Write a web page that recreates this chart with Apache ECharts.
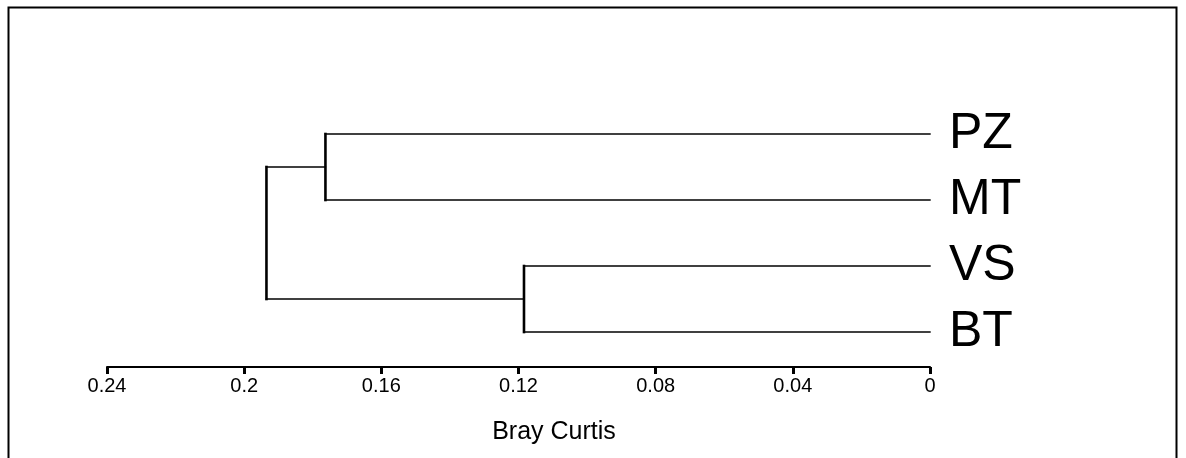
<!DOCTYPE html>
<html>
<head>
<meta charset="utf-8">
<script src="https://cdn.jsdelivr.net/npm/echarts@6/dist/echarts.min.js"></script>
<style>html,body{margin:0;padding:0;background:#fff}#c{width:1186px;height:458px}</style>
</head>
<body>
<div id="c"></div>
<script>
// Leaves, top to bottom
const leaves = ['PZ', 'MT', 'VS', 'BT'];
// Merges: [childA, childB, height]; node ids 0..3 are leaves, 4.. are merges
const mergeA = [0, 2, 4];
const mergeB = [1, 3, 5];
const mergeHeight = [0.1763, 0.1184, 0.1935];
const xTicks = [0, 0.04, 0.08, 0.12, 0.16, 0.2, 0.24];
const axisTitle = 'Bray Curtis';

// leaf y positions (value axis, top leaf highest)
const nodeY = leaves.map((_, i) => leaves.length - i);
const nodeX = leaves.map(() => 0);
const segs = [];
mergeHeight.forEach((h, k) => {
  const a = mergeA[k], b = mergeB[k];
  segs.push([nodeX[a], nodeY[a], h, nodeY[a], 1.4]);
  segs.push([nodeX[b], nodeY[b], h, nodeY[b], 1.4]);
  segs.push([h, nodeY[a], h, nodeY[b], 2.6]);
  nodeX.push(h);
  nodeY.push((nodeY[a] + nodeY[b]) / 2);
});
const leafData = leaves.map((name, i) => [0, nodeY[i], name]);

const chart = echarts.init(document.getElementById('c'));
chart.setOption({
  animation: false,
  backgroundColor: '#fff',
  grid: { left: 107, right: 256, top: 68, bottom: 91 },
  xAxis: {
    type: 'value', inverse: true, min: 0, max: 0.24, interval: 0.04,
    position: 'bottom',
    splitLine: { show: false },
    axisLine: { show: true, onZero: false, lineStyle: { color: '#000', width: 2 } },
    axisTick: { show: true, length: 7, lineStyle: { color: '#000', width: 3 } },
    axisLabel: { color: '#000', fontFamily: 'Liberation Sans, Arial, sans-serif', fontSize: 20, margin: 9 }
  },
  yAxis: { type: 'value', min: 0.47, max: 5, show: false },
  graphic: [
    { type: 'rect', shape: { x: 8.5, y: 7.5, width: 1168, height: 470 }, style: { fill: null, stroke: '#000', lineWidth: 2 }, silent: true },
    { type: 'text', x: 554, y: 432, style: { text: axisTitle, fill: '#000', font: '25px "Liberation Sans", Arial, sans-serif', textAlign: 'center', textVerticalAlign: 'middle' } }
  ],
  series: [
    {
      type: 'custom',
      data: segs,
      renderItem: function (params, api) {
        const p1 = api.coord([api.value(0), api.value(1)]);
        const p2 = api.coord([api.value(2), api.value(3)]);
        return {
          type: 'line',
          shape: { x1: p1[0], y1: p1[1], x2: p2[0], y2: p2[1] },
          style: { stroke: '#000', lineWidth: api.value(4), lineCap: 'square' }
        };
      },
      silent: true
    },
    {
      type: 'custom',
      data: leafData,
      renderItem: function (params, api) {
        const p = api.coord([api.value(0), api.value(1)]);
        return {
          type: 'text',
          x: p[0] + 19, y: p[1],
          style: { text: leafData[params.dataIndex][2], fill: '#000', font: '50px "Liberation Sans", Arial, sans-serif', textAlign: 'left', textVerticalAlign: 'middle' }
        };
      },
      silent: true
    }
  ]
});
</script>
</body>
</html>
